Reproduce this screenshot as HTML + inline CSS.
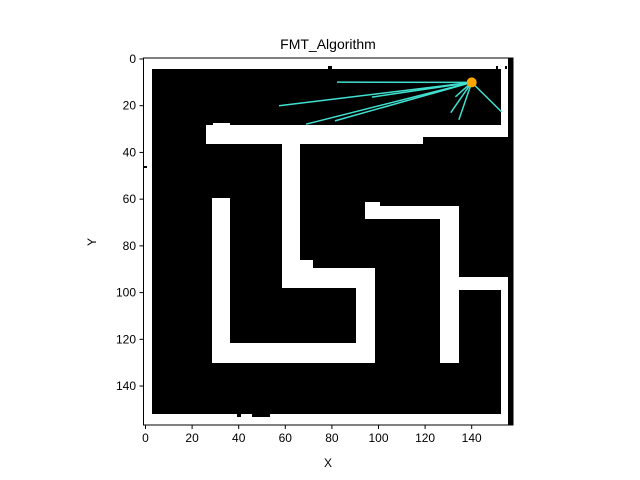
<!DOCTYPE html>
<html><head><meta charset="utf-8"><style>body{margin:0;background:#fff}svg{display:block;font-family:"Liberation Sans",sans-serif}</style></head>
<body>
<svg id="c" width="640" height="480" xmlns="http://www.w3.org/2000/svg">
<text x="328" y="49" font-size="14" text-anchor="middle">FMT_Algorithm</text>
<text x="328" y="467" font-size="12" text-anchor="middle">X</text>
<text x="96" y="242" font-size="12" text-anchor="middle" transform="rotate(-90 96 242)">Y</text>
<g id="map"></g>
<g id="lines"></g>
<g id="ticks"></g>
</svg>
<script>
const startPoint=[140,10];
const edgeEndX=[82.2,57.3,97.2,68.9,81.3,133,131,134.5,152.9];
const edgeEndY=[9.9,20,16.3,27.9,26.5,16.2,23,26,22.7];
const xTicks=[0,20,40,60,80,100,120,140];
const yTicks=[0,20,40,60,80,100,120,140];
const sx=v=>145.5+v*2.33, sy=v=>59+v*2.336;
const NS="http://www.w3.org/2000/svg";
function mk(t,a,p){const e=document.createElementNS(NS,t);for(const k in a)e.setAttribute(k,a[k]);p.appendChild(e);return e;}
const map=document.getElementById('map');
let bg=mk('rect',{x:143.5,y:58,width:369.5,height:367,fill:'#000'},map);


const walls=[[143.5,58,508,69],[143.5,58,152,425],[143.5,414,508,425],[501,58,508,137],[501,277,508,425],
[206,125,423,144],[423,125,501,137],[213,123,230,125],[282,144,300,288],[282,268,375,288],[300,260,313,268],
[356,268,375,363],[212,343,375,363],[212,198,230,363],[365,206,459,219],[365,202,380,206],[440,206,459,363],[453,277,508,290]];
walls.forEach(w=>{const r=mk('rect',{x:w[0],y:w[1],width:w[2]-w[0],height:w[3]-w[1],fill:'#fff'},map);

});
[[328,66,332,69],[496,66,498,69],[505,66,507,69],[144,166,147,168],[237,414,241,417],[252,414,270,417]].forEach(w=>{const r=mk('rect',{x:w[0],y:w[1],width:w[2]-w[0],height:w[3]-w[1],fill:'#000'},map);

});
const lines=document.getElementById('lines');
edgeEndX.forEach((x,i)=>{const l=mk('line',{x1:sx(startPoint[0]),y1:sy(startPoint[1]),x2:sx(x),y2:sy(edgeEndY[i]),stroke:'#40e0d0','stroke-width':1.5},lines);

});
const st=mk('circle',{cx:sx(startPoint[0]),cy:sy(startPoint[1]),r:5,fill:'#ffa500'},lines);


const tk=document.getElementById('ticks');
const fr=mk('rect',{x:143.5,y:58,width:369.5,height:367,fill:'none',stroke:'#000','stroke-width':1},tk);


xTicks.forEach(v=>{const x=sx(v);mk('line',{x1:x,y1:425,x2:x,y2:429,stroke:'#000'},tk);
const t=mk('text',{x:x,y:442,'font-size':12,'text-anchor':'middle'},tk);t.textContent=v;

});
yTicks.forEach(v=>{const y=sy(v);mk('line',{x1:139.5,y1:y,x2:143.5,y2:y,stroke:'#000'},tk);
const t=mk('text',{x:136,y:y+4,'font-size':12,'text-anchor':'end'},tk);t.textContent=v;

});
</script>
</body></html>
